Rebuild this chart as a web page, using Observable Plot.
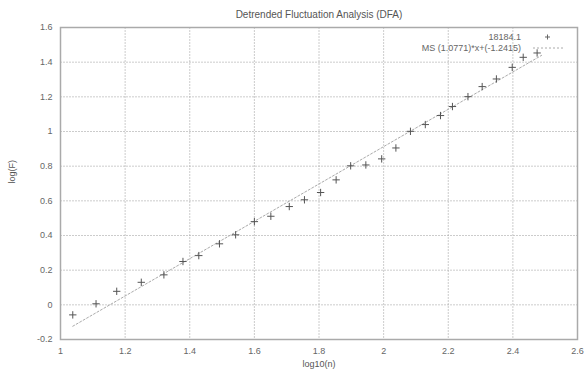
<!DOCTYPE html>
<html>
<head>
<meta charset="utf-8">
<script src="https://cdn.jsdelivr.net/npm/d3@7"></script>
<script src="https://cdn.jsdelivr.net/npm/@observablehq/plot@0.6"></script>
<style>
  body { margin: 0; background: #fff; }
  #chart svg { font-family: "Liberation Sans", Arial, sans-serif; }
</style>
</head>
<body>
<div id="chart"></div>
<script>
// ---- data ----
const titleText = "Detrended Fluctuation Analysis (DFA)";
const xLabel = "log10(n)";
const yLabel = "log(F)";
const seriesName = "18184.1";
const fitName = "MS (1.0771)*x+(-1.2415)";
const fitSlope = 1.0771;
const fitIntercept = -1.2415;
const logN = [1.038, 1.110, 1.174, 1.250, 1.320, 1.379, 1.428, 1.492, 1.542, 1.600,
              1.651, 1.708, 1.755, 1.805, 1.853, 1.898, 1.945, 1.994, 2.038, 2.083,
              2.129, 2.176, 2.213, 2.261, 2.305, 2.349, 2.398, 2.432, 2.475];
const logF = [-0.058, 0.006, 0.078, 0.130, 0.173, 0.250, 0.284, 0.352, 0.404, 0.480,
              0.511, 0.567, 0.606, 0.648, 0.721, 0.802, 0.807, 0.842, 0.905, 1.001,
              1.040, 1.092, 1.144, 1.201, 1.259, 1.303, 1.370, 1.428, 1.453];
const xTicks = [1, 1.2, 1.4, 1.6, 1.8, 2, 2.2, 2.4, 2.6];
const yTicks = [-0.2, 0, 0.2, 0.4, 0.6, 0.8, 1, 1.2, 1.4, 1.6];
const fitRange = [1.038, 2.489];

const points = logN.map((x, i) => ({x, y: logF[i]}));
const fitLine = fitRange.map(x => ({x, y: fitSlope * x + fitIntercept}));

const legendMark = (index, scales, values, dims) => {
  const ns = "http://www.w3.org/2000/svg";
  const g = document.createElementNS(ns, "g");
  const xr = dims.width - dims.marginRight;
  const y0 = dims.marginTop;
  const add = (tag, attrs, txt) => {
    const el = document.createElementNS(ns, tag);
    for (const k in attrs) el.setAttribute(k, attrs[k]);
    if (txt) el.textContent = txt;
    g.appendChild(el);
  };
  add("text", {x: xr - 56, y: y0 + 13, "text-anchor": "end", "font-size": 9, fill: "#666"}, seriesName);
  add("text", {x: xr - 56, y: y0 + 24, "text-anchor": "end", "font-size": 9, fill: "#666"}, fitName);
  add("path", {d: `M${xr - 32},${y0 + 10}h5M${xr - 29.5},${y0 + 7.5}v5`, stroke: "#666", "stroke-width": 1});
  add("line", {x1: xr - 44, x2: xr - 14, y1: y0 + 21, y2: y0 + 21, stroke: "#aaa", "stroke-width": 1, "stroke-dasharray": "2,2"});
  return g;
};

const chart = Plot.plot({
  width: 585,
  height: 372,
  marginLeft: 60,
  marginRight: 8,
  marginTop: 27,
  marginBottom: 33,
  style: {fontSize: "9px", color: "#666", background: "#fff"},
  x: {domain: [1, 2.6], ticks: xTicks, tickSize: 0, tickPadding: 8, tickFormat: d => String(d), label: null},
  y: {domain: [-0.2, 1.6], ticks: yTicks, tickSize: 0, tickPadding: 8, tickFormat: d => String(d), label: null},
  marks: [
    Plot.gridX(xTicks, {stroke: "#aaa", strokeOpacity: 0.6, strokeDasharray: "2,1"}),
    Plot.gridY(yTicks, {stroke: "#aaa", strokeOpacity: 0.6, strokeDasharray: "2,1"}),
    Plot.frame({stroke: "#aaa", strokeWidth: 1.5}),
    Plot.line(fitLine, {x: "x", y: "y", stroke: "#aaa", strokeWidth: 1, strokeDasharray: "2,2"}),
    Plot.dot(points, {x: "x", y: "y", symbol: "plus", r: 2.5, stroke: "#555", strokeWidth: 1}),
    Plot.text([titleText], {frameAnchor: "top", dy: -17, fontSize: 10, fill: "#555"}),
    Plot.text([xLabel], {frameAnchor: "bottom", dy: 27, fontSize: 9, fill: "#555"}),
    Plot.text([yLabel], {frameAnchor: "left", dx: -48, rotate: -90, fontSize: 9, fill: "#555"}),
    legendMark
  ]
});
document.getElementById("chart").appendChild(chart);
</script>
</body>
</html>
